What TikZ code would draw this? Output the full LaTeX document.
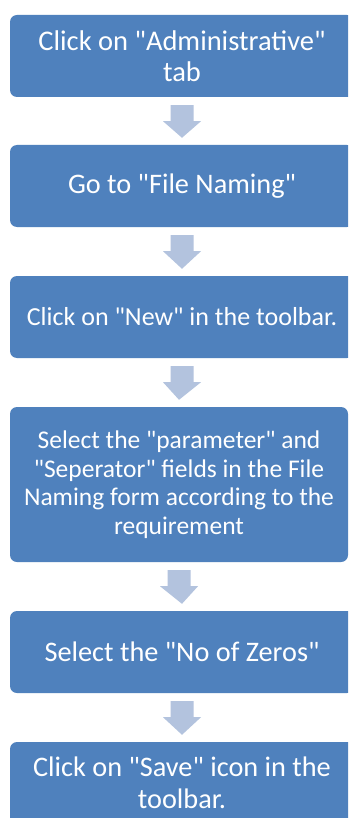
\documentclass[tikz,border=0pt]{standalone}
\usepackage{fontspec}
\setmainfont{Carlito}[Ligatures=TeXOff]
\usetikzlibrary{calc}
\definecolor{boxblue}{HTML}{4F81BD}
\definecolor{arrowblue}{HTML}{B3C3DE}
\tikzset{
  stepbox/.style={fill=boxblue, rounded corners=7pt, text=white, align=center,
    minimum width=344pt, minimum height=82pt, inner sep=0pt,
    font=\fontsize{28.3}{31.5}\selectfont},
}
\newcommand{\blockarrow}[2]{%
  \fill[arrowblue] ($(#1.south)+(-11.5,8)$) -- ($(#1.south)+(11.5,8)$)
    -- ($(#1.south)+(11.5,24)$) -- ($(#1.south)+(19,24)$)
    -- ($(#2.north)+(0,-7)$)
    -- ($(#1.south)+(-19,24)$) -- ($(#1.south)+(-11.5,24)$) -- cycle;}
\begin{document}
\begin{tikzpicture}[x=1pt,y=-1pt]
\useasboundingbox (0,0) rectangle (348,818);
\fill[white] (0,0) rectangle (348,818);
\begin{scope}
\clip (0,0) rectangle (348,818);
\node[stepbox, font=\fontsize{28.5}{31}\selectfont] (b1) at (182,56) {Click on "Administrative"\\tab};
\node[stepbox] (b2) at (182,186) {Go to "File Naming"};
\node[stepbox, font=\fontsize{26}{30}\selectfont] (b3) at (182,317) {Click on "New" in the toolbar.};
\node[stepbox, minimum height=155pt, minimum width=338pt, font=\fontsize{25.5}{28.5}\selectfont] (b4) at (179,484.5) {Select the "parameter" and\\"Seperator" fields in the File\\Naming form according to the\\requirement};
\node[stepbox] (b5) at (182,652) {Select the "No of Zeros"};
\node[stepbox] (b6) at (182,783) {Click on "Save" icon in the\\toolbar.};
\blockarrow{b1}{b2}
\blockarrow{b2}{b3}
\blockarrow{b3}{b4}
\blockarrow{b4}{b5}
\blockarrow{b5}{b6}
\end{scope}
\end{tikzpicture}
\end{document}
